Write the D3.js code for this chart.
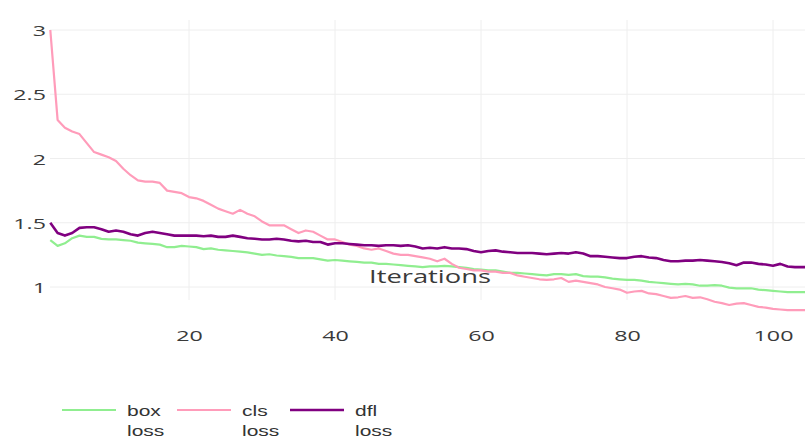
<!DOCTYPE html>
<html>
<head>
<meta charset="utf-8">
<script src="https://cdn.jsdelivr.net/npm/d3@7"></script>
<style>
  html, body { margin: 0; padding: 0; background: #fff; }
  svg { display: block; }
</style>
</head>
<body>
<svg id="chart" width="805" height="441"></svg>
<script>
// ---- data ----
const iterations = d3.range(1, 106);
const boxLoss = [
  1.365, 1.32, 1.34, 1.38, 1.40, 1.39, 1.39, 1.375, 1.37, 1.37,
  1.365, 1.36, 1.345, 1.34, 1.335, 1.33, 1.31, 1.31, 1.32, 1.315,
  1.31, 1.295, 1.30, 1.29, 1.285, 1.28, 1.275, 1.27, 1.26, 1.25,
  1.255, 1.245, 1.24, 1.235, 1.225, 1.225, 1.225, 1.215, 1.205, 1.21,
  1.205, 1.20, 1.195, 1.19, 1.19, 1.18, 1.18, 1.175, 1.17, 1.165,
  1.16, 1.155, 1.16, 1.16, 1.165, 1.16, 1.155, 1.15, 1.14, 1.135,
  1.13, 1.13, 1.12, 1.11, 1.11, 1.105, 1.10, 1.095, 1.09, 1.10,
  1.10, 1.095, 1.10, 1.085, 1.08, 1.08, 1.075, 1.065, 1.06, 1.055,
  1.055, 1.05, 1.04, 1.035, 1.03, 1.025, 1.02, 1.025, 1.02, 1.01,
  1.01, 1.015, 1.01, 0.995, 0.99, 0.99, 0.99, 0.98, 0.975, 0.97,
  0.965, 0.96, 0.96, 0.96, 0.96
];
const clsLoss = [
  3.00, 2.30, 2.24, 2.21, 2.19, 2.12, 2.05, 2.03, 2.01, 1.98,
  1.92, 1.87, 1.83, 1.82, 1.82, 1.81, 1.75, 1.74, 1.73, 1.70,
  1.69, 1.67, 1.64, 1.61, 1.59, 1.57, 1.60, 1.57, 1.55, 1.51,
  1.48, 1.48, 1.48, 1.45, 1.42, 1.44, 1.43, 1.40, 1.37, 1.37,
  1.35, 1.33, 1.32, 1.30, 1.29, 1.30, 1.28, 1.26, 1.25, 1.25,
  1.24, 1.23, 1.22, 1.20, 1.22, 1.18, 1.15, 1.14, 1.13, 1.13,
  1.12, 1.12, 1.11, 1.11, 1.09, 1.08, 1.07, 1.06, 1.055, 1.06,
  1.07, 1.04, 1.05, 1.04, 1.03, 1.02, 1.00, 0.99, 0.98, 0.955,
  0.965, 0.97, 0.95, 0.945, 0.93, 0.915, 0.92, 0.93, 0.915, 0.92,
  0.905, 0.885, 0.875, 0.86, 0.87, 0.875, 0.86, 0.845, 0.84, 0.83,
  0.825, 0.82, 0.82, 0.82, 0.82
];
const dflLoss = [
  1.50, 1.42, 1.40, 1.42, 1.46, 1.465, 1.465, 1.45, 1.43, 1.44,
  1.43, 1.41, 1.40, 1.42, 1.43, 1.42, 1.41, 1.40, 1.40, 1.40,
  1.40, 1.395, 1.40, 1.39, 1.39, 1.40, 1.39, 1.38, 1.375, 1.37,
  1.37, 1.375, 1.37, 1.36, 1.355, 1.36, 1.35, 1.35, 1.33, 1.34,
  1.34, 1.335, 1.33, 1.325, 1.325, 1.32, 1.325, 1.325, 1.32, 1.325,
  1.315, 1.30, 1.305, 1.30, 1.31, 1.30, 1.30, 1.295, 1.28, 1.27,
  1.28, 1.285, 1.275, 1.27, 1.265, 1.265, 1.265, 1.26, 1.255, 1.26,
  1.265, 1.26, 1.27, 1.26, 1.24, 1.24, 1.235, 1.23, 1.225, 1.225,
  1.235, 1.24, 1.23, 1.225, 1.21, 1.20, 1.20, 1.205, 1.205, 1.21,
  1.205, 1.20, 1.195, 1.185, 1.17, 1.19, 1.19, 1.18, 1.175, 1.165,
  1.18, 1.16, 1.155, 1.155, 1.155
];
const seriesNames = ["box\nloss", "cls\nloss", "dfl\nloss"];
const seriesColors = ["#90ee90", "#ff9cba", "#800080"];
const seriesWidths = [2.2, 2.2, 2.6];
const xTicks = [20, 40, 60, 80, 100];
const yTicks = [1, 1.5, 2, 2.5, 3];
const xTitle = "Iterations";

// ---- drawing ----
const svg = d3.select("#chart");
const W = 805, H = 441;
const x = d3.scaleLinear().domain([1, 105]).range([50.3, 809.5]);
const y = d3.scaleLinear().domain([1, 3]).range([287, 30]);
const series = [boxLoss, clsLoss, dflLoss];
const SX = 1.55; // horizontal stretch of text seen in the reference

// gridlines
const grid = svg.append("g").attr("class", "grid");
grid.selectAll("line.h").data(yTicks).join("line")
  .attr("x1", 50).attr("x2", W)
  .attr("y1", d => y(d)).attr("y2", d => y(d))
  .attr("stroke", "#eeeeee").attr("stroke-width", 1);
grid.selectAll("line.v").data(xTicks).join("line")
  .attr("x1", d => x(d)).attr("x2", d => x(d))
  .attr("y1", 20).attr("y2", 300)
  .attr("stroke", "#eeeeee").attr("stroke-width", 1);

// axes
const yAxis = svg.append("g").attr("transform", "translate(46,0)")
  .call(d3.axisLeft(y).tickValues(yTicks).tickFormat(d => String(d)).tickSize(0).tickPadding(0));
yAxis.select(".domain").remove();
yAxis.selectAll("text")
  .attr("x", 0).attr("dy", null).attr("y", 5.5)
  .attr("text-anchor", "end")
  .attr("transform", `scale(${SX},1)`)
  .style("font-family", "'Open Sans', sans-serif")
  .style("font-size", "15px")
  .attr("fill", "#3a3a3a");

const xAxis = svg.append("g").attr("transform", "translate(0,341)")
  .call(d3.axisBottom(x).tickValues(xTicks).tickFormat(d => String(d)).tickSize(0).tickPadding(0));
xAxis.select(".domain").remove();
xAxis.selectAll("text")
  .attr("y", 0).attr("dy", null)
  .attr("transform", `scale(${SX},1)`)
  .style("font-family", "'Open Sans', sans-serif")
  .style("font-size", "15px")
  .attr("fill", "#3a3a3a");

// lines
const line = d3.line().x((d, i) => x(iterations[i])).y(d => y(d));
svg.append("g").selectAll("path").data(series).join("path")
  .attr("d", d => line(d))
  .attr("fill", "none")
  .attr("stroke", (d, i) => seriesColors[i])
  .attr("stroke-width", (d, i) => seriesWidths[i])
  .attr("stroke-linejoin", "round");

// x title
svg.append("text")
  .attr("transform", `translate(430,283) scale(1.52,1)`)
  .attr("text-anchor", "middle")
  .style("font-family", "'Open Sans', sans-serif")
  .style("font-size", "18px")
  .attr("fill", "#3a3a3a")
  .text(xTitle);

// legend
const legendX = [62, 177, 290];
const leg = svg.append("g");
seriesNames.forEach((name, i) => {
  const g = leg.append("g").attr("transform", `translate(${legendX[i]},410)`);
  g.append("line").attr("x1", 0).attr("x2", 54).attr("y1", 0).attr("y2", 0)
    .attr("stroke", seriesColors[i]).attr("stroke-width", seriesWidths[i]);
  name.split("\n").forEach((t, k) => {
    g.append("text")
      .attr("transform", `translate(65,${6 + k * 20}) scale(1.5,1)`)
      .style("font-family", "'Liberation Sans', Arial, sans-serif")
      .style("font-size", "14px")
      .attr("fill", "#333")
      .text(t);
  });
});
</script>
</body>
</html>
